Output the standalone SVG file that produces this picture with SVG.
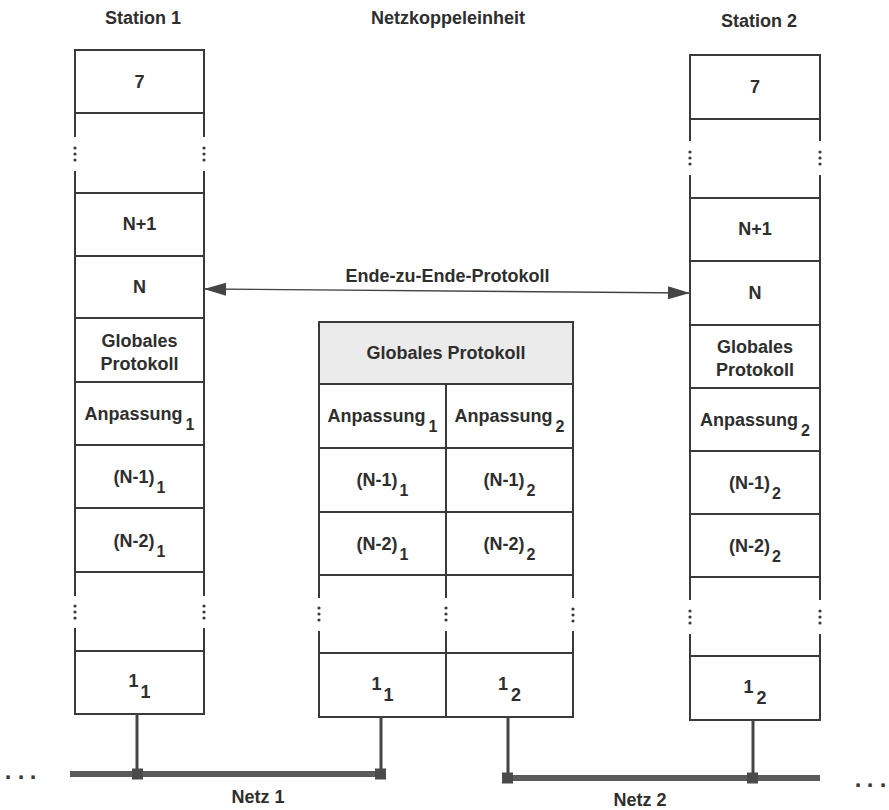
<svg xmlns="http://www.w3.org/2000/svg" width="889" height="810" viewBox="0 0 889 810">
<style>
  .t { font-family: "Liberation Sans", Arial, sans-serif; font-size: 18px; font-weight: bold; fill: #2e2e2e; text-anchor: middle; }
  .sub { font-size: 16px; }
  .ln { stroke: #3a3a3a; stroke-width: 2; fill: none; stroke-linecap: square; }
  .dot { fill: #3a3a3a; }
  .stem { stroke: #444; stroke-width: 3; fill: none; }
  .bar { fill: #5a5a5a; }
  .junc { fill: #4a4a4a; }
  .arr { stroke: #444; stroke-width: 1.3; fill: none; }
  .ell { font-family: "Liberation Sans", Arial, sans-serif; font-size: 24px; font-weight: bold; fill: #3a3a3a; }
</style>
<defs>
  <marker id="ah" markerUnits="userSpaceOnUse" markerWidth="24" markerHeight="14" refX="22" refY="6.5" orient="auto-start-reverse">
    <path d="M0,0 L22,6.5 L0,13 z" fill="#444"/>
  </marker>
</defs>
<rect width="889" height="810" fill="#fff"/>

<!-- Titles -->
<text class="t" x="143" y="24">Station 1</text>
<text class="t" x="448" y="24">Netzkoppeleinheit</text>
<text class="t" x="759" y="27">Station 2</text>

<!-- Station 1 -->
<g id="station1">
  <path class="ln" d="M75,50 H204 M75,113 H204 M75,193 H204 M75,256 H204 M75,318 H204 M75,382 H204 M75,445 H204 M75,508 H204 M75,572 H204 M75,651 H204 M75,714 H204"/>
  <path class="ln" d="M75,50 V136 M75,172 V595 M75,629 V714 M204,50 V136 M204,172 V595 M204,629 V714"/>
  <circle class="dot" cx="75" cy="148" r="1.6"/><circle class="dot" cx="75" cy="154" r="1.6"/><circle class="dot" cx="75" cy="160" r="1.6"/>
  <circle class="dot" cx="204" cy="148" r="1.6"/><circle class="dot" cx="204" cy="154" r="1.6"/><circle class="dot" cx="204" cy="160" r="1.6"/>
  <circle class="dot" cx="75" cy="606" r="1.6"/><circle class="dot" cx="75" cy="612" r="1.6"/><circle class="dot" cx="75" cy="618" r="1.6"/>
  <circle class="dot" cx="204" cy="606" r="1.6"/><circle class="dot" cx="204" cy="612" r="1.6"/><circle class="dot" cx="204" cy="618" r="1.6"/>
  <text class="t" x="139.5" y="88">7</text>
  <text class="t" x="139.5" y="230">N+1</text>
  <text class="t" x="139.5" y="293">N</text>
  <text class="t" x="139.5" y="347">Globales</text>
  <text class="t" x="139.5" y="370">Protokoll</text>
  <text class="t" x="139.5" y="420">Anpassung<tspan class="sub" dx="3" dy="10">1</tspan></text>
  <text class="t" x="139.5" y="483">(N-1)<tspan class="sub" dx="2" dy="10">1</tspan></text>
  <text class="t" x="139.5" y="547">(N-2)<tspan class="sub" dx="2" dy="10">1</tspan></text>
  <text class="t" x="139.5" y="687">1<tspan dx="3" dy="11">1</tspan></text>
</g>

<!-- Netzkoppeleinheit -->
<g id="netzkoppeleinheit">
  <rect x="319" y="322" width="254" height="62" fill="#ebebeb"/>
  <path class="ln" d="M319,322 H573 M319,384 H573 M319,448 H573 M319,512 H573 M319,575 H573 M319,653 H573 M319,717 H573"/>
  <path class="ln" d="M319,322 V597 M319,632 V717 M573,322 V597 M573,632 V717 M446,384 V597 M446,632 V717"/>
  <circle class="dot" cx="319" cy="608" r="1.6"/><circle class="dot" cx="319" cy="614" r="1.6"/><circle class="dot" cx="319" cy="620" r="1.6"/>
  <circle class="dot" cx="446" cy="608" r="1.6"/><circle class="dot" cx="446" cy="614" r="1.6"/><circle class="dot" cx="446" cy="620" r="1.6"/>
  <circle class="dot" cx="573" cy="609" r="1.6"/><circle class="dot" cx="573" cy="615" r="1.6"/><circle class="dot" cx="573" cy="621" r="1.6"/>
  <text class="t" x="446" y="359">Globales Protokoll</text>
  <text class="t" x="382.5" y="422">Anpassung<tspan class="sub" dx="3" dy="10">1</tspan></text>
  <text class="t" x="509.5" y="422">Anpassung<tspan class="sub" dx="3" dy="10">2</tspan></text>
  <text class="t" x="382.5" y="486">(N-1)<tspan class="sub" dx="2" dy="10">1</tspan></text>
  <text class="t" x="509.5" y="486">(N-1)<tspan class="sub" dx="2" dy="10">2</tspan></text>
  <text class="t" x="382.5" y="550">(N-2)<tspan class="sub" dx="2" dy="10">1</tspan></text>
  <text class="t" x="509.5" y="550">(N-2)<tspan class="sub" dx="2" dy="10">2</tspan></text>
  <text class="t" x="382.5" y="689.5">1<tspan dx="3" dy="11">1</tspan></text>
  <text class="t" x="509.5" y="689.5">1<tspan dx="3" dy="11">2</tspan></text>
</g>

<!-- Station 2 -->
<g id="station2">
  <path class="ln" d="M690,55 H820 M690,119 H820 M690,198 H820 M690,261 H820 M690,325 H820 M690,388 H820 M690,451 H820 M690,514 H820 M690,577 H820 M690,656 H820 M690,720 H820"/>
  <path class="ln" d="M690,55 V140 M690,176 V599 M690,635 V720 M820,55 V140 M820,176 V599 M820,635 V720"/>
  <circle class="dot" cx="690" cy="152" r="1.6"/><circle class="dot" cx="690" cy="158" r="1.6"/><circle class="dot" cx="690" cy="164" r="1.6"/>
  <circle class="dot" cx="820" cy="152" r="1.6"/><circle class="dot" cx="820" cy="158" r="1.6"/><circle class="dot" cx="820" cy="164" r="1.6"/>
  <circle class="dot" cx="690" cy="611" r="1.6"/><circle class="dot" cx="690" cy="617" r="1.6"/><circle class="dot" cx="690" cy="623" r="1.6"/>
  <circle class="dot" cx="820" cy="611" r="1.6"/><circle class="dot" cx="820" cy="617" r="1.6"/><circle class="dot" cx="820" cy="623" r="1.6"/>
  <text class="t" x="755" y="93">7</text>
  <text class="t" x="755" y="235">N+1</text>
  <text class="t" x="755" y="299">N</text>
  <text class="t" x="755" y="353">Globales</text>
  <text class="t" x="755" y="376">Protokoll</text>
  <text class="t" x="755" y="426">Anpassung<tspan class="sub" dx="3" dy="10">2</tspan></text>
  <text class="t" x="755" y="489">(N-1)<tspan class="sub" dx="2" dy="10">2</tspan></text>
  <text class="t" x="755" y="552">(N-2)<tspan class="sub" dx="2" dy="10">2</tspan></text>
  <text class="t" x="755" y="692.5">1<tspan dx="3" dy="11">2</tspan></text>
</g>

<!-- Netz 1 -->
<g id="netz1">
  <rect class="bar" x="70" y="771" width="315" height="6"/>
  <text class="t" x="258" y="803">Netz 1</text>
</g>

<!-- Netz 2 -->
<g id="netz2">
  <rect class="bar" x="502" y="775" width="318" height="6"/>
  <text class="t" x="640" y="806">Netz 2</text>
</g>

<!-- Connectors -->
<g id="connectors">
  <line class="arr" x1="204" y1="289" x2="690" y2="293" marker-start="url(#ah)" marker-end="url(#ah)"/>
  <text class="t" x="447.5" y="282">Ende-zu-Ende-Protokoll</text>
  <line class="stem" x1="137" y1="714" x2="137" y2="774"/>
  <line class="stem" x1="381" y1="717" x2="381" y2="774"/>
  <line class="stem" x1="508" y1="717" x2="508" y2="778"/>
  <line class="stem" x1="753" y1="720" x2="753" y2="778"/>
  <rect class="junc" x="132" y="768.5" width="11" height="11"/>
  <rect class="junc" x="375" y="768.5" width="11" height="11"/>
  <rect class="junc" x="502" y="772.5" width="11" height="11"/>
  <rect class="junc" x="747" y="772.5" width="11" height="11"/>
</g>

<text class="ell" x="4.7 17.7 29.7" y="779">...</text>
<text class="ell" x="854.7 866.7 879.7" y="787">...</text>
</svg>
